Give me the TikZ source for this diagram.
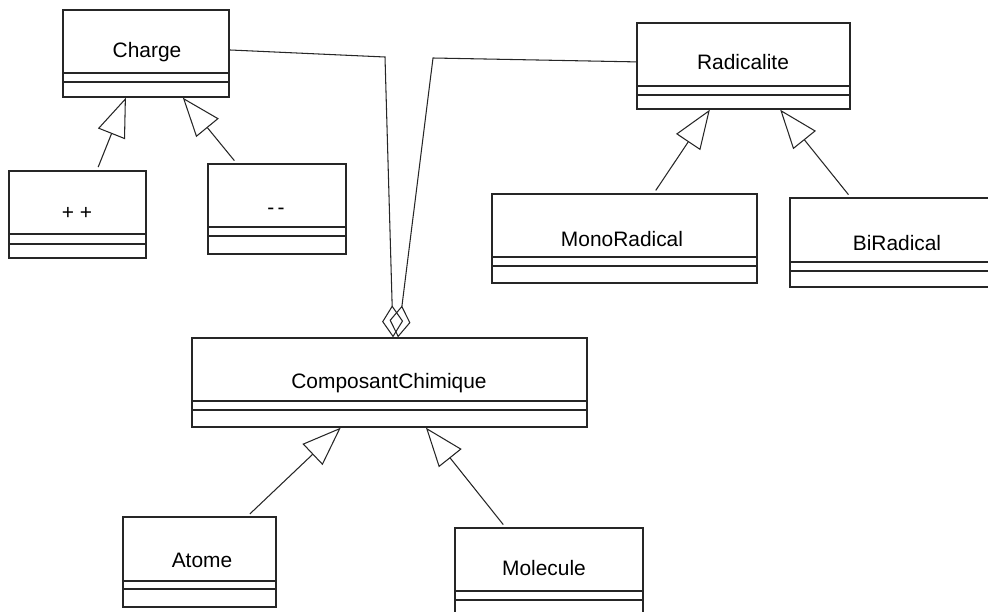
\documentclass[tikz,border=0pt]{standalone}
\usepackage{fontspec}
\setmainfont{Liberation Sans}
\usetikzlibrary{arrows.meta,fit,calc}

\tikzset{
  classbox/.style={draw, black!85, line width=0.75pt, inner sep=0pt, fit={#1}},
  divider/.style={black!85, line width=0.75pt},
  classname/.style={font=\fontsize{11.9}{14}\selectfont, inner sep=0pt},
  inherit/.style={black!85, line width=0.6pt, shorten <=0.07cm,
    -{Triangle[open, length=0.78cm, width=0.58cm]}},
  aggreg/.style={black!85, line width=0.6pt,
    -{Diamond[open, length=0.64cm, width=0.42cm]}}
}

\begin{document}
\begin{tikzpicture}[x=0.02cm, y=-0.02cm]
    \useasboundingbox (0,0) rectangle (988,612);

    % Charge and its subclasses
    \node[classbox={(63,10) (229,97)}] (charge) {};
    \node[classname] (chargename) at (147,52) {Charge};
    \draw[divider] (charge.west |- 0,73) -- (charge.east |- 0,73);
    \draw[divider] (charge.west |- 0,82) -- (charge.east |- 0,82);

    \node[classbox={(9,171) (146,258)}] (plus) {};
    \node[classname] (plusname) at (77,213) {+ +};
    \draw[divider] (plus.west |- 0,234) -- (plus.east |- 0,234);
    \draw[divider] (plus.west |- 0,244) -- (plus.east |- 0,244);

    \node[classbox={(208,164) (346,254)}] (minus) {};
    \node[classname] (minusname) at (276,211) {-\,-};
    \draw[divider] (minus.west |- 0,227) -- (minus.east |- 0,227);
    \draw[divider] (minus.west |- 0,236) -- (minus.east |- 0,236);

    % Radicalite and its subclasses
    \node[classbox={(637,23) (850,109)}] (radic) {};
    \node[classname] (radicname) at (743,62) {Radicalite};
    \draw[divider] (radic.west |- 0,86) -- (radic.east |- 0,86);
    \draw[divider] (radic.west |- 0,95) -- (radic.east |- 0,95);

    \node[classbox={(492,194) (757,283)}] (mono) {};
    \node[classname] (mononame) at (622,239) {MonoRadical};
    \draw[divider] (mono.west |- 0,257) -- (mono.east |- 0,257);
    \draw[divider] (mono.west |- 0,266) -- (mono.east |- 0,266);

    \node[classbox={(790,198) (1000,287)}] (bi) {};
    \node[classname] (biname) at (897,243) {BiRadical};
    \draw[divider] (bi.west |- 0,262) -- (bi.east |- 0,262);
    \draw[divider] (bi.west |- 0,271) -- (bi.east |- 0,271);

    % ComposantChimique and its subclasses
    \node[classbox={(192,338) (587,427)}] (compo) {};
    \node[classname] (componame) at (389,383) {ComposantChimique};
    \draw[divider] (compo.west |- 0,401) -- (compo.east |- 0,401);
    \draw[divider] (compo.west |- 0,410) -- (compo.east |- 0,410);

    \node[classbox={(123,517) (276,607)}] (atome) {};
    \node[classname] (atomename) at (202,560) {Atome};
    \draw[divider] (atome.west |- 0,581) -- (atome.east |- 0,581);
    \draw[divider] (atome.west |- 0,589) -- (atome.east |- 0,589);

    \node[classbox={(455,528) (643,630)}] (molec) {};
    \node[classname] (molecname) at (544,568) {Molecule};
    \draw[divider] (molec.west |- 0,591) -- (molec.east |- 0,591);
    \draw[divider] (molec.west |- 0,600) -- (molec.east |- 0,600);

    % Generalisation
    \draw[inherit] ($(plus.north west)!0.64!(plus.north east)$) -- ($(charge.south west)!0.38!(charge.south east)$);
    \draw[inherit] ($(minus.north west)!0.21!(minus.north east)$) -- ($(charge.south west)!0.72!(charge.south east)$);
    \draw[inherit] ($(mono.north west)!0.61!(mono.north east)$) -- ($(radic.south west)!0.343!(radic.south east)$);
    \draw[inherit] ($(bi.north west)!0.29!(bi.north east)$) -- ($(radic.south west)!0.671!(radic.south east)$);
    \draw[inherit] ($(atome.north west)!0.81!(atome.north east)$) -- ($(compo.south west)!0.377!(compo.south east)$);
    \draw[inherit] ($(molec.north west)!0.27!(molec.north east)$) -- ($(compo.south west)!0.592!(compo.south east)$);

    % Aggregation
    \coordinate (bendL) at (385,57);
    \coordinate (bendR) at (433,58);
    \draw[aggreg] ($(charge.north east)!0.46!(charge.south east)$) -- (bendL) -- ($(compo.north west)!0.509!(compo.north east)$);
    \draw[aggreg] ($(radic.north west)!0.453!(radic.south west)$) -- (bendR) -- ($(compo.north west)!0.5215!(compo.north east)$);

\end{tikzpicture}
\end{document}
